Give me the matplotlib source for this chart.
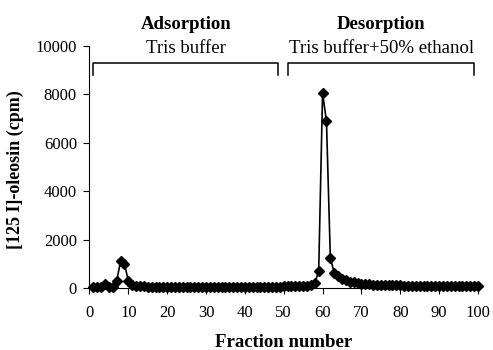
import matplotlib.pyplot as plt

plt.rcParams['font.family'] = ['Liberation Serif', 'DejaVu Serif']

fractions = list(range(1, 101))
cpm = [
    50, 60, 50, 150, 60, 50, 300, 1100, 1000, 300,
    120, 80, 70, 65, 60, 60, 60, 60, 60, 60,
    60, 60, 60, 60, 60, 60, 60, 60, 60, 60,
    60, 60, 60, 60, 60, 60, 60, 60, 60, 60,
    60, 60, 60, 60, 60, 60, 60, 60, 60, 65,
    65, 70, 70, 75, 80, 90, 120, 200, 700, 8050,
    6900, 1250, 620, 480, 380, 320, 270, 230, 200, 180,
    165, 155, 145, 135, 130, 125, 120, 115, 110, 110,
    105, 105, 100, 100, 100, 95, 95, 95, 90, 90,
    90, 90, 85, 85, 85, 85, 80, 80, 80, 80,
]

phases = ['Adsorption', 'Desorption']
buffers = ['Tris buffer', 'Tris buffer+50% ethanol']
spans = [(1, 48.6), (51.2, 99)]

fig = plt.figure(figsize=(4.93, 3.5), dpi=100)
ax = fig.add_axes([0.1815, 0.177, 0.788, 0.6916])

ax.plot(fractions, cpm, color='black', lw=1.2, marker='D', ms=5.5, clip_on=False)

for (a, b), ph, buf in zip(spans, phases, buffers):
    ax.plot([a, a, b, b], [8800, 9280, 9280, 8800], color='black', lw=1.1)
    mid = (a + b) / 2
    ax.text(mid, 9880, buf, ha='center', va='center', fontsize=13.5)
    ax.text(mid, 10900, ph, ha='center', va='center', fontsize=13.5,
            fontweight='bold', clip_on=False)

ax.set_xlim(0, 100)
ax.set_ylim(0, 10000)
ax.set_xticks(range(0, 101, 10))
ax.set_yticks(range(0, 10001, 2000))
ax.spines['top'].set_visible(False)
ax.spines['right'].set_visible(False)
ax.tick_params(direction='out', length=4, labelsize=12, color='black')
ax.tick_params(axis='x', pad=8)
ax.tick_params(axis='y', pad=5)
ax.set_xlabel('Fraction number', fontsize=13.5, fontweight='bold', va='center')
ax.set_ylabel('[125 I]-oleosin (cpm)', fontsize=13, fontweight='bold', va='center')
ax.xaxis.set_label_coords(0.5, -0.227)
ax.yaxis.set_label_coords(-0.192, 0.49)

fig.savefig('out.png', dpi=100)
